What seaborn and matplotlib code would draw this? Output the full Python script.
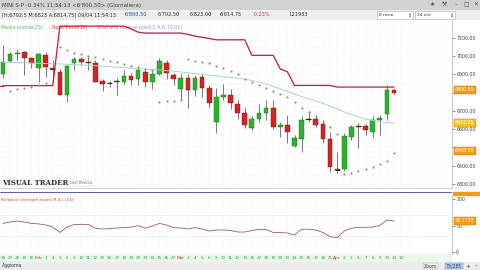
import numpy as np
import pandas as pd
import matplotlib
matplotlib.use("Agg")
import matplotlib.pyplot as plt
import seaborn as sns
from matplotlib.patches import Rectangle

# ---------------- data ----------------
opens  = [6903, 6974, 7010, 7023, 6992, 6935, 7007, 6934, 6915, 6788,
          6961, 6983, 6970, 6965, 6866, 6853, 6860, 6861, 6892, 6874,
          6915, 6857, 6901, 6965, 6897, 6819, 6883, 6815, 6885, 6824,
          6641, 6775, 6788, 6738, 6687, 6605, 6655, 6691, 6715, 6611,
          6623, 6508, 6545, 6650, 6655, 6629, 6545, 6380, 6381, 6559,
          6615, 6618, 6587, 6651, 6684, 6814.75]
highs  = [7060, 7023, 7040, 7030, 6995, 7020, 7023, 6980, 6930, 6952,
          6998, 6998, 6998, 6980, 6875, 6866, 6879, 6925, 6910, 6941,
          6930, 6925, 6990, 6980, 6910, 6900, 6900, 6895, 6900, 6840,
          6824, 6848, 6820, 6760, 6720, 6670, 6740, 6760, 6760, 6640,
          6680, 6570, 6670, 6700, 6680, 6650, 6585, 6477, 6580, 6625,
          6633, 6630, 6670, 6680, 6842, 6823]
lows   = [6881, 6970, 6980, 6897, 6935, 6859, 6886, 6853, 6785, 6751,
          6925, 6952, 6925, 6858, 6811, 6830, 6788, 6850, 6840, 6845,
          6830, 6820, 6897, 6875, 6840, 6760, 6716, 6780, 6775, 6716,
          6579, 6760, 6710, 6655, 6605, 6595, 6640, 6650, 6600, 6559,
          6525, 6500, 6477, 6640, 6610, 6524, 6367, 6359, 6370, 6540,
          6496, 6570, 6560, 6570, 6650, 6792.5]
closes = [6969, 7012, 7019, 6990, 6961, 7012, 6943, 6929, 6788, 6947,
          6983, 6969, 6961, 6861, 6846, 6856, 6862, 6892, 6870, 6925,
          6857, 6901, 6976, 6907, 6875, 6883, 6815, 6879, 6824, 6742,
          6775, 6788, 6742, 6687, 6623, 6655, 6691, 6715, 6611, 6622,
          6587, 6550, 6651, 6656, 6623, 6545, 6395, 6377, 6563, 6614,
          6619, 6596, 6651, 6660, 6815, 6800.5]
ma25   = [6966, 6966, 6966, 6965, 6963, 6961, 6960, 6959, 6958, 6956,
          6954, 6952, 6950, 6948, 6945, 6943, 6940, 6938, 6935, 6932,
          6930, 6927, 6925, 6921, 6918, 6914, 6909, 6905, 6901, 6896,
          6892, 6887, 6884, 6880, 6874, 6867, 6859, 6848, 6834, 6821,
          6807, 6793, 6779, 6766, 6755, 6741, 6727, 6711, 6695, 6681,
          6667, 6656, 6648, 6641, 6636, 6633]
supertrend = [6839, 6839, 6839, 6839, 6839, 6839, 6839, 6839, 7165, 7165,
              7165, 7165, 7165, 7165, 7165, 7165, 7165, 7165, 7150, 7132,
              7127, 7127, 7127, 7127, 7127, 7127, 7120, 7110, 7104, 7097,
              7090, 7090, 7090, 7090, 7090, 7005, 7005, 7005, 7005, 6930,
              6915, 6840, 6840, 6840, 6840, 6840, 6840, 6831, 6831, 6831,
              6831, 6831, 6831, 6831, 6831, 6831]
sar = [np.nan, 6811, 6819, 6824, 6833, 6842, 6852, np.nan, 7049, 7034,
       7019, 7012, 7003, 6994, 6983, 6976, 6966, 6956, 6948, 6943,
       6930, 6923, 6751, 6755, 6756, 6762, 6983, 6976, 6968, 6963,
       6947, 6933, 6919, 6900, 6875, 6859, 6841, 6824, 6811, 6795,
       6778, 6749, 6718, 6695, 6669, 6642, 6611, 6574, 6355, 6359,
       6370, 6381, 6392, 6407, 6428, 6468]
rsi = [54, 56.6, 58.5, 56.6, 54, 53, 51, 47, 37, 47,
       52, 52.2, 52, 44.7, 43.4, 44.3, 45.3, 46, 47, 49.6,
       45, 49, 54, 51, 46, 45.3, 43.4, 46, 43.4, 39.6,
       41.5, 41.5, 40.5, 37.7, 37.7, 40.5, 42.5, 42.5, 36.8, 36.8,
       35.8, 32, 43, 43, 41.5, 36.8, 29, 27, 39.6, 44.7,
       46.6, 46.6, 47, 50, 60.4, 58.5]
date_labels = ["26", "27", "28", "29", "30", "Feb", "3", "4", "5", "6", "9", "10",
               "11", "12", "13", "16", "17", "18", "19", "20", "23", "24", "25",
               "26", "27", "Mar", "3", "4", "5", "6", "9", "10", "11", "12", "13",
               "16", "17", "18", "19", "20", "23", "24", "25", "26", "27", "30",
               "31", "Apr", "2", "3", "6", "7", "8", "9", "10", "13", "14"]
price_ticks = [6300, 6400, 6500, 6600, 6700, 6800, 6900, 7000, 7100]
hidden_ticks = [6500, 6800]   # covered by the value boxes in the reference

df = pd.DataFrame({"i": np.arange(len(opens)), "open": opens, "high": highs,
                   "low": lows, "close": closes, "ma": ma25, "st": supertrend,
                   "sar": sar, "rsi": rsi})

# ---------------- figure ----------------
sns.set_theme(style="white")
plt.rcParams["font.family"] = ["DejaVu Sans"]
W, H = 480, 270
fig = plt.figure(figsize=(4.8, 2.7), dpi=100)
fig.patch.set_facecolor("white")


def px_axes(x0, y0, w, h, **kw):
    return fig.add_axes([x0 / W, 1 - (y0 + h) / H, w / W, h / H], **kw)


def fig_text(x, y, s, **kw):
    fig.text(x / W, 1 - y / H, s, **kw)


XL = (-0.42, 63.15)
PLOT_W = 452

# title bar
tb = px_axes(0, 0, W, 9.5)
tb.set_axis_off()
tb.add_patch(Rectangle((0, 0), 1, 1, transform=tb.transAxes, color="#d2d2d2"))
fig_text(2, 5, "MINI S-P -0.34% 11:54:13 <6'800.50> (Giornaliera)",
         fontsize=3.9, color="#404040", va="center")
for xx, s in [(432, "\u2605"), (444, "\u2692"), (456, "\u2013"), (466, "\u25a1"), (476, "\u2715")]:
    fig_text(xx, 4.5, s, fontsize=4.2, color="#505050", va="center", ha="center")

# info bar
ib = px_axes(0, 9.5, W, 10.5)
ib.set_axis_off()
ib.add_patch(Rectangle((0, 0), 1, 1, transform=ib.transAxes, color="#efefef"))
fig_text(2, 15, "[H:6792,5 M:6823 A:6814,75] 09/04 11:54:13", fontsize=3.6, color="#303030", va="center")
fig_text(125, 15, "6'800.50", fontsize=3.6, color="#2040c0", va="center")
fig_text(158, 15, "6'792.50", fontsize=3.6, color="#303030", va="center")
fig_text(190, 15, "6'823.00", fontsize=3.6, color="#303030", va="center")
fig_text(220, 15, "6'814.75", fontsize=3.6, color="#303030", va="center")
fig_text(253, 15, "-0.23%", fontsize=3.6, color="#d03030", va="center")
fig_text(290, 15, "L21933", fontsize=3.6, color="#303030", va="center")
for bx, bw, s in [(377, 36, "8 mesi"), (415, 40, "24 ore")]:
    fig.patches.append(Rectangle((bx / W, 1 - 19 / H), bw / W, 7.5 / H, transform=fig.transFigure,
                                 facecolor="white", edgecolor="#b0b0b0", lw=0.4))
    fig_text(bx + 2, 15.3, s, fontsize=3.2, color="#303030", va="center")
    fig_text(bx + bw - 4, 15.3, "\u21d5", fontsize=3.4, color="#303030", va="center", ha="center")

# ---------------- main price panel ----------------
ax = px_axes(0, 20, PLOT_W, 168)
ax.set_xlim(*XL)
ax.set_ylim(6278, 7198.6)
for gx in range(0, 58):
    ax.axvline(gx, color="#e4e4ec", lw=0.35, ls=(0, (1, 1.5)), zorder=0)
for gy in np.arange(6300, 7200, 50):
    ax.axhline(gy, color="#e4e4ec", lw=0.35, ls=(0, (1, 1.5)), zorder=0)

up = df["close"] >= df["open"]
bw = 0.66
ax.vlines(df["i"], df["low"], df["high"], color="#303030", lw=0.45, zorder=2)
ax.bar(df["i"][up], (df["close"] - df["open"])[up], bottom=df["open"][up], width=bw,
       color="#2bb52b", edgecolor="#1d5e1d", lw=0.3, zorder=3)
ax.bar(df["i"][~up], (df["open"] - df["close"])[~up], bottom=df["close"][~up], width=bw,
       color="#e02020", edgecolor="#6a1010", lw=0.3, zorder=3)
doji = (df["close"] - df["open"]).abs() < 8
ax.hlines(df["close"][doji], df["i"][doji] - bw / 2, df["i"][doji] + bw / 2, color="#202020", lw=0.7, zorder=4)

sns.lineplot(data=df, x="i", y="ma", ax=ax, color="#a6d6c4", lw=0.7, zorder=4, legend=False)
sns.lineplot(data=df, x="i", y="st", ax=ax, color="#c8183c", lw=0.9, zorder=5, legend=False)
ax.plot([XL[0], 0], [supertrend[0], supertrend[0]], color="#c8183c", lw=0.9, zorder=5)
sns.scatterplot(data=df, x="i", y="sar", ax=ax, color="#8c8ca8", s=2.4, linewidth=0, zorder=6, legend=False)

ax.set_xlabel("")
ax.set_ylabel("")
ax.set_xticks([])
ax.yaxis.tick_right()
ax.set_yticks(price_ticks)
ax.set_yticklabels(["" if t in hidden_ticks else f"{t:.2f}" for t in price_ticks])
ax.tick_params(axis="y", labelsize=3.4, length=2, width=0.4, pad=1, colors="#404040", right=True)
for s in ["top", "left", "bottom"]:
    ax.spines[s].set_visible(False)
ax.spines["right"].set_color("#b0b0b0")
ax.spines["right"].set_linewidth(0.5)

ax.text(0.002, 0.97, "Media mobile(25)", transform=ax.transAxes, fontsize=3.4, color="#50c070", va="top")
ax.text(0.115, 0.97, "SuperTrend(10)", transform=ax.transAxes, fontsize=3.4, color="#e04040", va="top")
ax.text(0.215, 0.97, "Stop and reverse point 5 A.R. [0.02]", transform=ax.transAxes, fontsize=3.4,
        color="#9a9ad8", va="top")

# watermark
fig_text(2, 183, "VISUAL TRADER", fontsize=5.0, color="#303030", fontweight="bold",
         family="DejaVu Serif", va="center")
fig_text(70, 183.5, "Dati Directa", fontsize=2.6, color="#707070", va="center",
         bbox=dict(boxstyle="square,pad=0.2", fc="white", ec="#c0c0c0", lw=0.3))

# price label boxes on right axis
for yy, s, fc in [(90, "6800.50", "#f39c12"), (123, "6633.26", "#f1c232"), (151, "6468.06", "#f39c12")]:
    fig_text(455, yy, s, fontsize=3.4, color="white", va="center",
             bbox=dict(boxstyle="square,pad=0.25", fc=fc, ec="#c07000", lw=0.3))

# ---------------- volume strip ----------------
vx = px_axes(0, 188, PLOT_W, 8)
vx.set_xlim(*XL)
vx.set_ylim(0, 1)
vx.axhline(0.45, color="#5a5aa8", lw=0.7)
vx.axhline(0.95, color="#c0c0c0", lw=0.5)
vx.set_xticks([])
vx.set_yticks([])
for s in vx.spines.values():
    s.set_visible(False)
fig.patches.append(Rectangle((453 / W, 1 - 195 / H), 27 / W, 3 / H, transform=fig.transFigure,
                             color="#f39c12"))

# ---------------- RSI panel ----------------
rx = px_axes(0, 196, PLOT_W, 58)
rx.set_xlim(*XL)
rx.set_ylim(-3.8, 105.7)
for gx in range(0, 58):
    rx.axvline(gx, color="#e6e6ee", lw=0.35, ls=(0, (1, 1.5)), zorder=0)
for gy in [30, 70]:
    rx.axhline(gy, color="#c8c8d0", lw=0.4, ls=(0, (1.5, 1.5)), zorder=0)
sns.lineplot(data=df, x="i", y="rsi", ax=rx, color="#a05a5a", lw=0.6, legend=False)
rx.set_xlabel("")
rx.set_ylabel("")
rx.set_xticks([])
rx.yaxis.tick_right()
rx.set_yticks([0, 50, 100])
rx.tick_params(axis="y", labelsize=3.4, length=2, width=0.4, pad=1, colors="#404040", right=True)
for s in ["top", "left", "bottom"]:
    rx.spines[s].set_visible(False)
rx.spines["right"].set_color("#b0b0b0")
rx.spines["right"].set_linewidth(0.5)
rx.text(0.003, 0.97, "Relative strength index R.S.I.(14)", transform=rx.transAxes,
        fontsize=3.2, color="#d04848", va="top")
fig_text(455, 221, "58.7738", fontsize=3.4, color="white", va="center",
         bbox=dict(boxstyle="square,pad=0.25", fc="#f39c12", ec="#c07000", lw=0.3))

# ---------------- date strip ----------------
dx = px_axes(0, 254, PLOT_W, 8)
dx.set_xlim(*XL)
dx.set_ylim(0, 1)
dx.add_patch(Rectangle((0, 0), 1, 1, transform=dx.transAxes, color="#e9f8e9"))
for k, lab in enumerate(date_labels):
    is_month = not lab.isdigit()
    dx.text(k, 0.5, lab, fontsize=3.0 if not is_month else 3.2,
            color="#d03030" if is_month else "#30a030", ha="center", va="center")
dx.set_xticks([])
dx.set_yticks([])
for s in dx.spines.values():
    s.set_visible(False)

# ---------------- status bar ----------------
sb = px_axes(0, 262, W, 8)
sb.set_axis_off()
sb.add_patch(Rectangle((0, 0), 1, 1, transform=sb.transAxes, color="#ececec"))
fig_text(2, 266, "Aggiorna", fontsize=3.3, color="#303030", va="center")
fig_text(424, 266, "Zoom", fontsize=3.3, color="#303030", va="center",
         bbox=dict(boxstyle="square,pad=0.2", fc="#f4f4f4", ec="#a0a0a0", lw=0.3))
fig_text(446, 266, "75/285", fontsize=3.3, color="#203060", va="center",
         bbox=dict(boxstyle="square,pad=0.2", fc="#b8d4f0", ec="#6080b0", lw=0.3))
fig_text(468, 266, "+", fontsize=3.8, color="#202020", va="center", ha="center")
fig_text(476, 266, "\u2013", fontsize=3.8, color="#202020", va="center", ha="center")

fig.savefig("out.png", dpi=100)
